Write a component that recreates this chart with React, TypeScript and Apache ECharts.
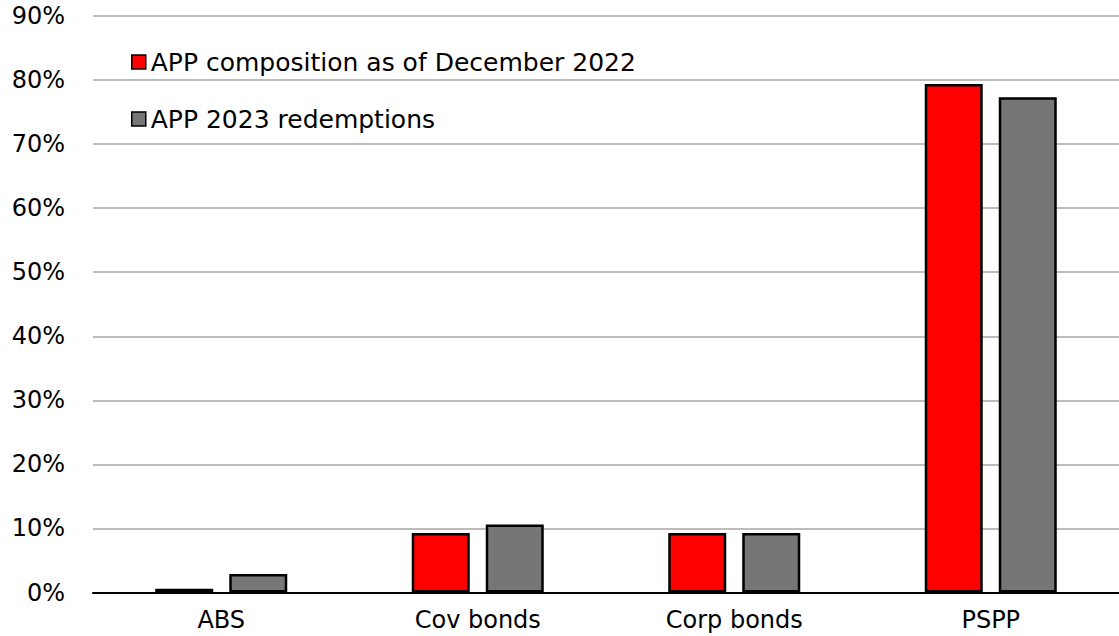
import React, { useEffect, useRef } from "react";
import * as echarts from "echarts";

const categories = ["ABS", "Cov bonds", "Corp bonds", "PSPP"];
const composition2022 = [0.6, 9.3, 9.3, 79.4];
const redemptions2023 = [2.9, 10.6, 9.3, 77.3];
const seriesNames = ["APP composition as of December 2022", "APP 2023 redemptions"];

export default function App() {
  const ref = useRef<HTMLDivElement>(null);
  useEffect(() => {
    if (!ref.current) return;
    const chart = echarts.init(ref.current, undefined, { renderer: "svg" });
    const font = "DejaVu Sans";
    chart.setOption({
      animation: false,
      backgroundColor: "#ffffff",
      grid: { left: 93, right: 0, top: 16, bottom: 43.5 },
      legend: {
        orient: "vertical",
        left: 126,
        top: 44.5,
        itemWidth: 14,
        itemHeight: 14,
        itemGap: 32,
        icon: "rect",
        textStyle: { fontFamily: font, fontSize: 25, color: "#000", lineHeight: 25 },
        itemStyle: { borderColor: "#000", borderWidth: 1.5 },
        data: seriesNames,
      },
      xAxis: {
        type: "category",
        data: categories,
        axisLine: { show: true, lineStyle: { color: "#000", width: 2 } },
        axisTick: { show: false },
        axisLabel: { fontFamily: font, fontSize: 24, color: "#000", margin: 15 },
      },
      yAxis: {
        type: "value",
        min: 0,
        max: 90,
        interval: 10,
        axisLine: { show: false },
        axisTick: { show: false },
        splitLine: { lineStyle: { color: "#bcbcbc", width: 2 } },
        axisLabel: {
          fontFamily: font,
          fontSize: 24,
          color: "#000",
          margin: 28,
          formatter: "{value}%",
        },
      },
      series: [
        {
          name: seriesNames[0],
          type: "bar",
          data: composition2022,
          barWidth: 58,
          barGap: "27.6%",
          itemStyle: { color: "#ff0000", borderColor: "#000", borderWidth: 2.5 },
        },
        {
          name: seriesNames[1],
          type: "bar",
          data: redemptions2023,
          barWidth: 58,
          barGap: "27.6%",
          itemStyle: { color: "#767676", borderColor: "#000", borderWidth: 2.5 },
        },
      ],
    });
    return () => chart.dispose();
  }, []);
  return (
    <div
      ref={ref}
      style={{ position: "absolute", left: 0, top: 0, width: 1119, height: 636 }}
    />
  );
}
